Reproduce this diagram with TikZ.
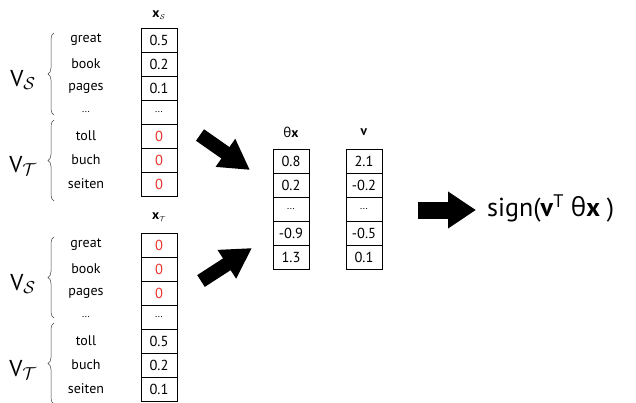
\documentclass[tikz,border=0pt]{standalone}
\usepackage{fontspec}
\setmainfont{PT Sans}
\newfontfamily\grkfont{Open Sans}
\usetikzlibrary{decorations.pathreplacing,arrows.meta}
\definecolor{zerored}{RGB}{232,52,46}
\newcommand{\rz}{\textcolor{zerored}{0}}
\newcommand{\dotsrow}{{\fontsize{10}{10}\selectfont ...}}

\begin{document}
\begin{tikzpicture}[x=1pt,y=-1pt,
  cell/.style={draw=black, line width=1pt, minimum width=36pt, minimum height=24pt,
    inner sep=0pt, font=\fontsize{14.5}{15}\selectfont},
  word/.style={inner sep=0pt, font=\fontsize{14}{15}\selectfont},
  head/.style={inner sep=0pt, font=\fontsize{13.5}{14}\selectfont},
  vlabel/.style={inner sep=0pt, font=\fontsize{23}{24}\selectfont},
  grp/.style={decorate, decoration={brace, amplitude=6pt}, line width=0.5pt, draw=black!75},
  bigarrow/.style={line width=#1, -{Triangle[length=30pt,width=32pt]}},
]
\useasboundingbox (0,0) rectangle (636,402);

% upper vector x_S
\node[head] (hs) at (159,15) {\textbf{x}$_{\scriptscriptstyle\mathcal S}$};
\foreach \v [count=\i] in {0.5,0.2,0.1,\dotsrow,\rz,\rz,\rz}
  \node[cell] (xs\i) at (159,16+24*\i) {\v};
\foreach \w [count=\i] in {great,book,pages,\dotsrow,toll,buch,seiten}
  \node[word] (ws\i) at (86,16+24*\i) {\w};

% lower vector x_T
\node[head] (ht) at (159,217) {\textbf{x}$_{\scriptscriptstyle\mathcal T}$};
\foreach \v [count=\i] in {\rz,\rz,\rz,\dotsrow,0.5,0.2,0.1}
  \node[cell] (xt\i) at (159,221+24*\i) {\v};
\foreach \w [count=\i] in {great,book,pages,\dotsrow,toll,buch,seiten}
  \node[word] (wt\i) at (86,221+24*\i) {\w};

% vocabulary braces and labels
\coordinate (b1a) at (54,115); \coordinate (b1b) at (54,33);
\coordinate (b2a) at (54,201); \coordinate (b2b) at (54,120);
\coordinate (b3a) at (54,318); \coordinate (b3b) at (54,237);
\coordinate (b4a) at (54,404); \coordinate (b4b) at (54,323);
\draw[grp] (b1a) -- (b1b);
\draw[grp] (b2a) -- (b2b);
\draw[grp] (b3a) -- (b3b);
\draw[grp] (b4a) -- (b4b);
\node[vlabel] (v1) at (23,80) {V$_{\mathcal S}$};
\node[vlabel] (v2) at (23,166) {V$_{\mathcal T}$};
\node[vlabel] (v3) at (23,284) {V$_{\mathcal S}$};
\node[vlabel] (v4) at (23,370) {V$_{\mathcal T}$};

% projected vector and weight vector
\node[head] (hth) at (291,132) {{\grkfont θ}\textbf{x}};
\foreach \v [count=\i] in {0.8,0.2,\dotsrow,-0.9,1.3}
  \node[cell] (tx\i) at (291,137+24*\i) {\v};
\node[head] (hv) at (364,132) {\textbf{v}};
\foreach \v [count=\i] in {2.1,-0.2,\dotsrow,-0.5,0.1}
  \node[cell] (vv\i) at (364,137+24*\i) {\v};

% block arrows
\coordinate (a1s) at (200,135); \coordinate (a1e) at (250,170);
\coordinate (a2s) at (201,281); \coordinate (a2e) at (252,248);
\coordinate (a3s) at (418,210); \coordinate (a3e) at (476,210);
\draw[bigarrow=14pt] (a1s) -- (a1e);
\draw[bigarrow=14pt] (a2s) -- (a2e);
\draw[line width=17pt, -{Triangle[length=28pt,width=35pt]}] (a3s) -- (a3e);

% decision function
\node[inner sep=0pt, anchor=west, font=\fontsize{26}{28}\selectfont] (sg) at (487,208)
  {sign(\textbf{v}\textsuperscript{T} {\grkfont θ}\textbf{x} )};
\end{tikzpicture}
\end{document}
